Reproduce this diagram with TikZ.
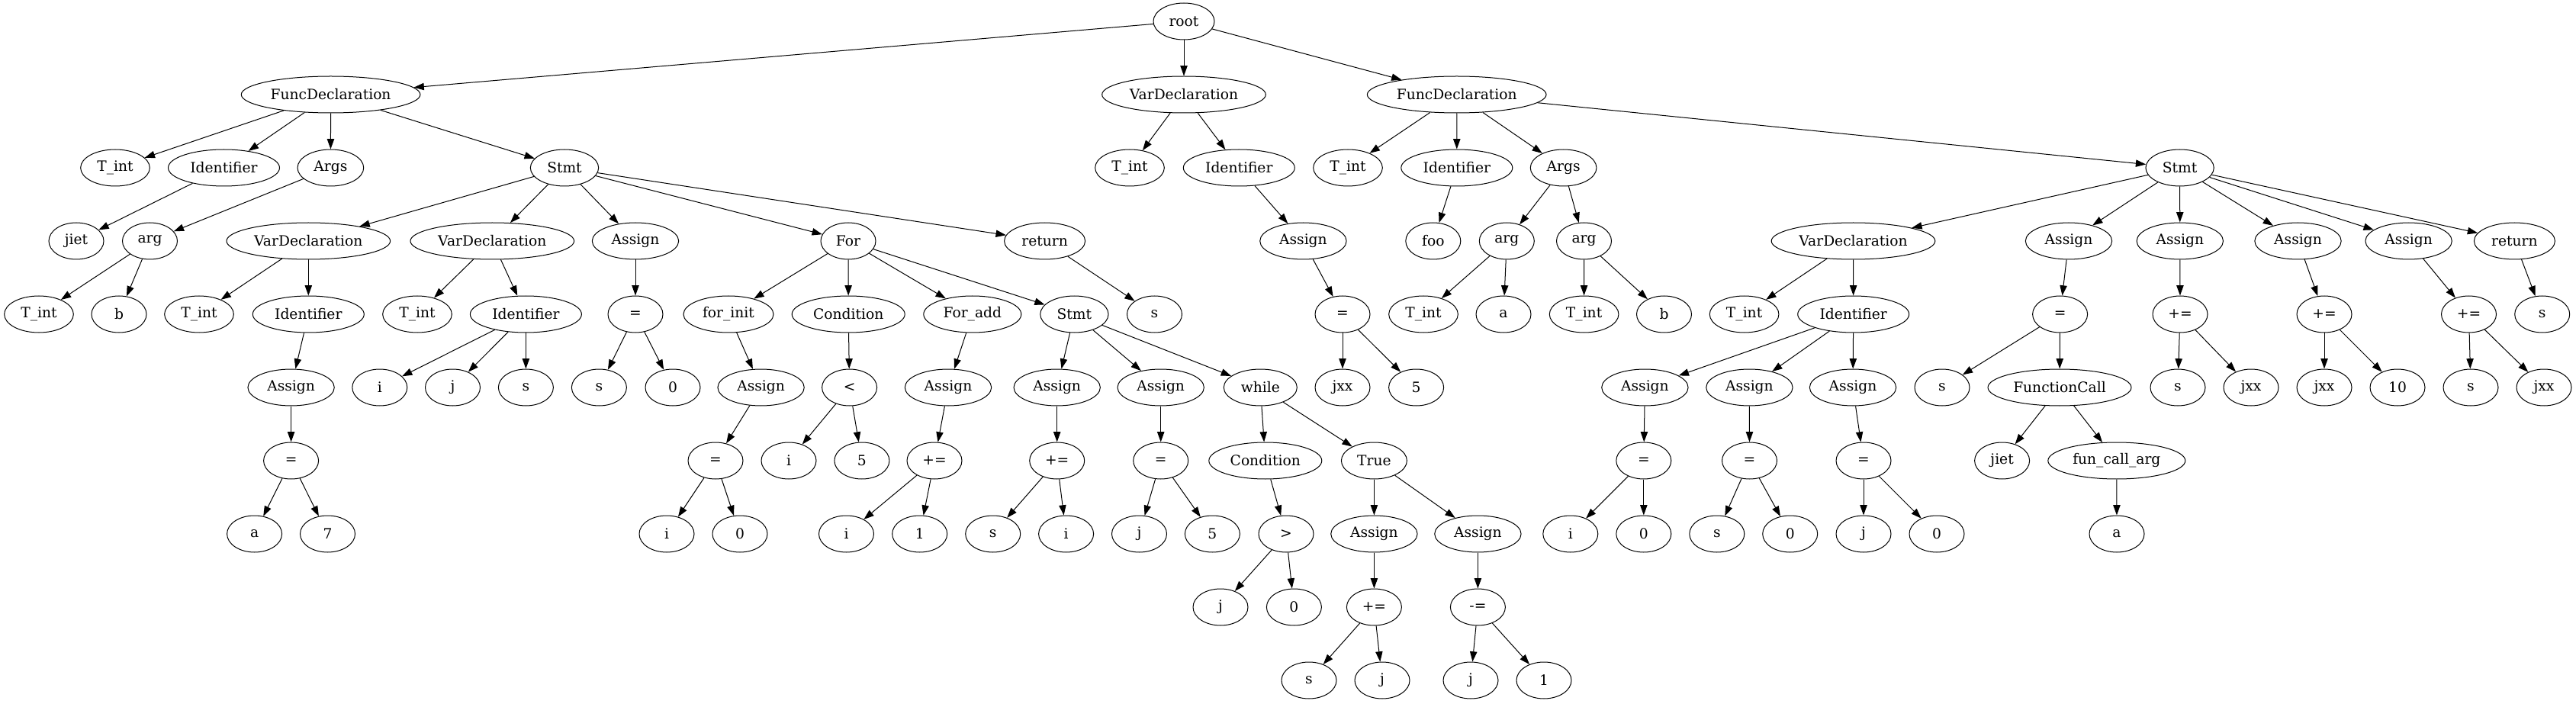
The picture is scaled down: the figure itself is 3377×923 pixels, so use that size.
\documentclass[tikz,border=0pt]{standalone}
\usepackage{fontspec}
\setmainfont{DejaVu Serif}
\usetikzlibrary{arrows.meta}
\usetikzlibrary{shapes.geometric}

\tikzset{
  ast/.style={draw, ellipse, line width=0.75pt, inner sep=0pt, minimum width=54pt, minimum height=36pt, font=\fontsize{14pt}{16pt}\selectfont},
  wd/.style={minimum width=#1pt},
  treearrow/.style={line width=0.75pt, -{Triangle[length=10pt,width=7pt]}}
}

\begin{document}
\begin{tikzpicture}[x=0.75pt,y=0.75pt,yscale=-1,xscale=1]
%set diagram left start at 0, and has height of 923
\useasboundingbox (0,0) rectangle (3377,923);

%Level 0
\node [ast, wd=60] (root) at (1552,28) {root};
%Level 1
\node [ast, wd=176] (fdA) at (433.6,124) {FuncDeclaration};
\node [ast, wd=161] (vdG) at (1552,124) {VarDeclaration};
\node [ast, wd=176] (fdB) at (1909.7,124) {FuncDeclaration};
%Level 2
\node [ast, wd=68] (fdAtype) at (151,220) {T\_int};
\node [ast, wd=109.5] (fdAid) at (293.5,220) {Identifier};
\node [ast, wd=65] (fdAargs) at (433.4,220) {Args};
\node [ast, wd=67] (fdAbody) at (740,220) {Stmt};
\node [ast, wd=68] (vdGt) at (1481,220) {T\_int};
\node [ast, wd=109.5] (vdGid) at (1624.3,220) {Identifier};
\node [ast, wd=68] (fdBtype) at (1767,220) {T\_int};
\node [ast, wd=109.5] (fdBid) at (1909.8,220) {Identifier};
\node [ast, wd=65] (fdBargs) at (2049.6,220) {Args};
\node [ast, wd=67] (fdBbody) at (2857.6,220) {Stmt};
%Level 3
\node [ast] (fdAname) at (100,316) {jiet};
\node [ast] (fdAarg) at (196.5,316) {arg};
\node [ast, wd=161] (sA1) at (404.3,316) {VarDeclaration};
\node [ast, wd=161] (sA2) at (645.3,316) {VarDeclaration};
\node [ast, wd=85] (sA3) at (833,316) {Assign};
\node [ast] (sA4) at (1112,316) {For};
\node [ast, wd=79.5] (sA5) at (1369.6,316) {return};
\node [ast, wd=85] (vdGas) at (1708.4,316) {Assign};
\node [ast] (fdBname) at (1878.8,316) {foo};
\node [ast] (fdBarg1) at (1975.3,316) {arg};
\node [ast] (fdBarg2) at (2076.5,316) {arg};
\node [ast, wd=161] (sB1) at (2429.5,316) {VarDeclaration};
\node [ast, wd=85] (sB2) at (2712,316) {Assign};
\node [ast, wd=85] (sB3) at (2857.8,316) {Assign};
\node [ast, wd=85] (sB4) at (3012.5,316) {Assign};
\node [ast, wd=85] (sB5) at (3157.6,316) {Assign};
\node [ast, wd=79.5] (sB6) at (3296.4,316) {return};
%Level 4
\node [ast, wd=68] (fdAargT) at (51,412) {T\_int};
\node [ast] (fdAargN) at (156,412) {b};
\node [ast, wd=68] (sA1t) at (261,412) {T\_int};
\node [ast, wd=109.5] (sA1id) at (404.3,412) {Identifier};
\node [ast, wd=68] (sA2t) at (547,412) {T\_int};
\node [ast, wd=109.5] (sA2id) at (689.4,412) {Identifier};
\node [ast] (sA3op) at (833,412) {=};
\node [ast, wd=88.5] (fInit) at (955,412) {for\_init};
\node [ast, wd=111] (fCond) at (1112.2,412) {Condition};
\node [ast, wd=96] (fAdd) at (1274.8,412) {For\_add};
\node [ast, wd=67] (fBody) at (1408.4,412) {Stmt};
\node [ast] (sA5v) at (1513.5,412) {s};
\node [ast] (vdGop) at (1760,412) {=};
\node [ast, wd=68] (fdBarg1t) at (1866,412) {T\_int};
\node [ast] (fdBarg1n) at (1971,412) {a};
\node [ast, wd=68] (fdBarg2t) at (2076.6,412) {T\_int};
\node [ast] (fdBarg2n) at (2181.5,412) {b};
\node [ast, wd=68] (sB1t) at (2286.6,412) {T\_int};
\node [ast, wd=109.5] (sB1id) at (2429.7,412) {Identifier};
\node [ast] (sB2op) at (2700.6,412) {=};
\node [ast] (sB3op) at (2858,412) {+=};
\node [ast] (sB4op) at (3047,412) {+=};
\node [ast] (sB5op) at (3236.5,412) {+=};
\node [ast] (sB6v) at (3332.7,412) {s};
%Level 5
\node [ast, wd=85] (sA1as) at (381.6,508) {Assign};
\node [ast] (sA2i) at (497.8,508) {i};
\node [ast] (sA2j) at (593.5,508) {j};
\node [ast] (sA2s) at (689.4,508) {s};
\node [ast] (sA3l) at (785.4,508) {s};
\node [ast] (sA3r) at (882,508) {0};
\node [ast, wd=85] (fInitAs) at (997.6,508) {Assign};
\node [ast] (fCondOp) at (1113.6,508) {<};
\node [ast, wd=85] (fAddAs) at (1243,508) {Assign};
\node [ast, wd=85] (fB1) at (1385.7,508) {Assign};
\node [ast, wd=85] (fB2) at (1521.7,508) {Assign};
\node [ast, wd=72] (fB3) at (1652.3,508) {while};
\node [ast] (vdGl) at (1760,508) {jxx};
\node [ast] (vdGr) at (1856.6,508) {5};
\node [ast, wd=85] (sB1a) at (2156.4,508) {Assign};
\node [ast, wd=85] (sB1b) at (2293.4,508) {Assign};
\node [ast, wd=85] (sB1c) at (2429,508) {Assign};
\node [ast] (sB2l) at (2546,508) {s};
\node [ast, wd=141] (sB2call) at (2700,508) {FunctionCall};
\node [ast] (sB3l) at (2855,508) {s};
\node [ast] (sB3r) at (2951,508) {jxx};
\node [ast] (sB4l) at (3047,508) {jxx};
\node [ast] (sB4r) at (3143,508) {10};
\node [ast] (sB5l) at (3239,508) {s};
\node [ast] (sB5r) at (3335,508) {jxx};
%Level 6
\node [ast] (sA1op) at (381.6,604) {=};
\node [ast] (fInitOp) at (938,604) {=};
\node [ast] (fCondL) at (1034,604) {i};
\node [ast] (fCondR) at (1129.9,604) {5};
\node [ast] (fAddOp) at (1225,604) {+=};
\node [ast] (fB1op) at (1385.7,604) {+=};
\node [ast] (fB2op) at (1521.7,604) {=};
\node [ast, wd=111] (wCond) at (1658.8,604) {Condition};
\node [ast, wd=64.5] (wTrue) at (1801.4,604) {True};
\node [ast] (sB1aop) at (2154.8,604) {=};
\node [ast] (sB1bop) at (2293.5,604) {=};
\node [ast] (sB1cop) at (2443,604) {=};
\node [ast] (callName) at (2624.6,604) {jiet};
\node [ast, wd=135] (callArg) at (2774.8,604) {fun\_call\_arg};
%Level 7
\node [ast] (sA1l) at (333.6,700) {a};
\node [ast] (sA1r) at (429.5,700) {7};
\node [ast] (fInitL) at (874,700) {i};
\node [ast] (fInitR) at (970,700) {0};
\node [ast] (fAddL) at (1109.5,700) {i};
\node [ast] (fAddR) at (1205.7,700) {1};
\node [ast] (fB1l) at (1301.7,700) {s};
\node [ast] (fB1r) at (1397.6,700) {i};
\node [ast] (fB2l) at (1493.5,700) {j};
\node [ast] (fB2r) at (1589.4,700) {5};
\node [ast] (wCondOp) at (1686,700) {>};
\node [ast, wd=85] (wT1) at (1801.4,700) {Assign};
\node [ast, wd=85] (wT2) at (1937.4,700) {Assign};
\node [ast] (sB1al) at (2058.8,700) {i};
\node [ast] (sB1ar) at (2154.8,700) {0};
\node [ast] (sB1bl) at (2250.8,700) {s};
\node [ast] (sB1br) at (2346.7,700) {0};
\node [ast] (sB1cl) at (2443,700) {j};
\node [ast] (sB1cr) at (2539,700) {0};
\node [ast] (callArgV) at (2775,700) {a};
%Level 8
\node [ast] (wCondL) at (1600,796) {j};
\node [ast] (wCondR) at (1696.4,796) {0};
\node [ast] (wT1op) at (1801.4,796) {+=};
\node [ast] (wT2op) at (1937.4,796) {-=};
%Level 9
\node [ast] (wT1l) at (1716,892) {s};
\node [ast] (wT1r) at (1812,892) {j};
\node [ast] (wT2l) at (1928,892) {j};
\node [ast] (wT2r) at (2024,892) {1};

%Edges from root
\draw [treearrow] (root) -- (fdA);
\draw [treearrow] (root) -- (vdG);
\draw [treearrow] (root) -- (fdB);
%Edges of the first function
\draw [treearrow] (fdA) -- (fdAtype);
\draw [treearrow] (fdA) -- (fdAid);
\draw [treearrow] (fdA) -- (fdAargs);
\draw [treearrow] (fdA) -- (fdAbody);
\draw [treearrow] (fdAid) -- (fdAname);
\draw [treearrow] (fdAargs) -- (fdAarg);
\draw [treearrow] (fdAarg) -- (fdAargT);
\draw [treearrow] (fdAarg) -- (fdAargN);
\draw [treearrow] (fdAbody) -- (sA1);
\draw [treearrow] (fdAbody) -- (sA2);
\draw [treearrow] (fdAbody) -- (sA3);
\draw [treearrow] (fdAbody) -- (sA4);
\draw [treearrow] (fdAbody) -- (sA5);
\draw [treearrow] (sA1) -- (sA1t);
\draw [treearrow] (sA1) -- (sA1id);
\draw [treearrow] (sA1id) -- (sA1as);
\draw [treearrow] (sA1as) -- (sA1op);
\draw [treearrow] (sA1op) -- (sA1l);
\draw [treearrow] (sA1op) -- (sA1r);
\draw [treearrow] (sA2) -- (sA2t);
\draw [treearrow] (sA2) -- (sA2id);
\draw [treearrow] (sA2id) -- (sA2i);
\draw [treearrow] (sA2id) -- (sA2j);
\draw [treearrow] (sA2id) -- (sA2s);
\draw [treearrow] (sA3) -- (sA3op);
\draw [treearrow] (sA3op) -- (sA3l);
\draw [treearrow] (sA3op) -- (sA3r);
\draw [treearrow] (sA5) -- (sA5v);
%Edges of the for loop
\draw [treearrow] (sA4) -- (fInit);
\draw [treearrow] (sA4) -- (fCond);
\draw [treearrow] (sA4) -- (fAdd);
\draw [treearrow] (sA4) -- (fBody);
\draw [treearrow] (fInit) -- (fInitAs);
\draw [treearrow] (fInitAs) -- (fInitOp);
\draw [treearrow] (fInitOp) -- (fInitL);
\draw [treearrow] (fInitOp) -- (fInitR);
\draw [treearrow] (fCond) -- (fCondOp);
\draw [treearrow] (fCondOp) -- (fCondL);
\draw [treearrow] (fCondOp) -- (fCondR);
\draw [treearrow] (fAdd) -- (fAddAs);
\draw [treearrow] (fAddAs) -- (fAddOp);
\draw [treearrow] (fAddOp) -- (fAddL);
\draw [treearrow] (fAddOp) -- (fAddR);
\draw [treearrow] (fBody) -- (fB1);
\draw [treearrow] (fBody) -- (fB2);
\draw [treearrow] (fBody) -- (fB3);
\draw [treearrow] (fB1) -- (fB1op);
\draw [treearrow] (fB1op) -- (fB1l);
\draw [treearrow] (fB1op) -- (fB1r);
\draw [treearrow] (fB2) -- (fB2op);
\draw [treearrow] (fB2op) -- (fB2l);
\draw [treearrow] (fB2op) -- (fB2r);
%Edges of the while loop
\draw [treearrow] (fB3) -- (wCond);
\draw [treearrow] (fB3) -- (wTrue);
\draw [treearrow] (wCond) -- (wCondOp);
\draw [treearrow] (wCondOp) -- (wCondL);
\draw [treearrow] (wCondOp) -- (wCondR);
\draw [treearrow] (wTrue) -- (wT1);
\draw [treearrow] (wTrue) -- (wT2);
\draw [treearrow] (wT1) -- (wT1op);
\draw [treearrow] (wT1op) -- (wT1l);
\draw [treearrow] (wT1op) -- (wT1r);
\draw [treearrow] (wT2) -- (wT2op);
\draw [treearrow] (wT2op) -- (wT2l);
\draw [treearrow] (wT2op) -- (wT2r);
%Edges of the global declaration
\draw [treearrow] (vdG) -- (vdGt);
\draw [treearrow] (vdG) -- (vdGid);
\draw [treearrow] (vdGid) -- (vdGas);
\draw [treearrow] (vdGas) -- (vdGop);
\draw [treearrow] (vdGop) -- (vdGl);
\draw [treearrow] (vdGop) -- (vdGr);
%Edges of the second function
\draw [treearrow] (fdB) -- (fdBtype);
\draw [treearrow] (fdB) -- (fdBid);
\draw [treearrow] (fdB) -- (fdBargs);
\draw [treearrow] (fdB) -- (fdBbody);
\draw [treearrow] (fdBid) -- (fdBname);
\draw [treearrow] (fdBargs) -- (fdBarg1);
\draw [treearrow] (fdBargs) -- (fdBarg2);
\draw [treearrow] (fdBarg1) -- (fdBarg1t);
\draw [treearrow] (fdBarg1) -- (fdBarg1n);
\draw [treearrow] (fdBarg2) -- (fdBarg2t);
\draw [treearrow] (fdBarg2) -- (fdBarg2n);
\draw [treearrow] (fdBbody) -- (sB1);
\draw [treearrow] (fdBbody) -- (sB2);
\draw [treearrow] (fdBbody) -- (sB3);
\draw [treearrow] (fdBbody) -- (sB4);
\draw [treearrow] (fdBbody) -- (sB5);
\draw [treearrow] (fdBbody) -- (sB6);
\draw [treearrow] (sB1) -- (sB1t);
\draw [treearrow] (sB1) -- (sB1id);
\draw [treearrow] (sB1id) -- (sB1a);
\draw [treearrow] (sB1id) -- (sB1b);
\draw [treearrow] (sB1id) -- (sB1c);
\draw [treearrow] (sB1a) -- (sB1aop);
\draw [treearrow] (sB1aop) -- (sB1al);
\draw [treearrow] (sB1aop) -- (sB1ar);
\draw [treearrow] (sB1b) -- (sB1bop);
\draw [treearrow] (sB1bop) -- (sB1bl);
\draw [treearrow] (sB1bop) -- (sB1br);
\draw [treearrow] (sB1c) -- (sB1cop);
\draw [treearrow] (sB1cop) -- (sB1cl);
\draw [treearrow] (sB1cop) -- (sB1cr);
\draw [treearrow] (sB2) -- (sB2op);
\draw [treearrow] (sB2op) -- (sB2l);
\draw [treearrow] (sB2op) -- (sB2call);
\draw [treearrow] (sB2call) -- (callName);
\draw [treearrow] (sB2call) -- (callArg);
\draw [treearrow] (callArg) -- (callArgV);
\draw [treearrow] (sB3) -- (sB3op);
\draw [treearrow] (sB3op) -- (sB3l);
\draw [treearrow] (sB3op) -- (sB3r);
\draw [treearrow] (sB4) -- (sB4op);
\draw [treearrow] (sB4op) -- (sB4l);
\draw [treearrow] (sB4op) -- (sB4r);
\draw [treearrow] (sB5) -- (sB5op);
\draw [treearrow] (sB5op) -- (sB5l);
\draw [treearrow] (sB5op) -- (sB5r);
\draw [treearrow] (sB6) -- (sB6v);

\end{tikzpicture}
\end{document}
